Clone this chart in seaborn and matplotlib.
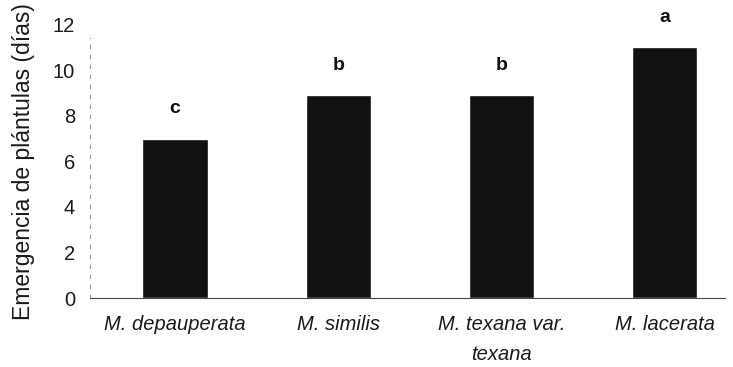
import numpy as np
import pandas as pd
import matplotlib
matplotlib.use('Agg')
import matplotlib.pyplot as plt
import seaborn as sns

# Datos
especies = ['M. depauperata', 'M. similis', 'M. texana var.\ntexana', 'M. lacerata']
dias = [7.0, 8.9, 8.9, 11.0]
letras = ['c', 'b', 'b', 'a']

df = pd.DataFrame({'especie': especies, 'dias': dias})

sns.set_style('white')
plt.rcParams['font.family'] = ['Liberation Sans', 'DejaVu Sans']

fig = plt.figure(figsize=(7.33, 3.67), dpi=100)
ax = fig.add_axes([0.123, 0.188, 0.866, 0.745])

sns.barplot(data=df, x='especie', y='dias', color='#111111', width=0.4,
            saturation=1, ax=ax)

for i, (v, l) in enumerate(zip(dias, letras)):
    ax.text(i, v + 1.3, l, ha='center', va='center', fontsize=14,
            fontweight='bold', color='#111111')

ax.set_ylim(0, 12)
ax.set_xlim(-0.52, 3.37)
ax.set_yticks(range(0, 13, 2))
ax.tick_params(axis='y', labelsize=14.5, length=0, pad=11, colors='#1a1a1a')
ax.tick_params(axis='x', labelsize=14.5, length=0, pad=12, colors='#1a1a1a')
for t in ax.get_xticklabels():
    t.set_fontstyle('italic')
    t.set_linespacing(1.75)
ax.set_xlabel('')
ax.set_ylabel('Emergencia de plántulas (días)', fontsize=16.5, color='#1a1a1a',
              labelpad=13)

sns.despine(ax=ax, top=True, right=True)
ax.spines['bottom'].set_color('#444444')
ax.spines['bottom'].set_linewidth(0.8)
ax.spines['left'].set_color('#999999')
ax.spines['left'].set_linestyle((0, (3, 6)))
ax.spines['left'].set_linewidth(0.8)
ax.spines['left'].set_bounds(0, 11.4)

plt.savefig('out.png', dpi=100)
